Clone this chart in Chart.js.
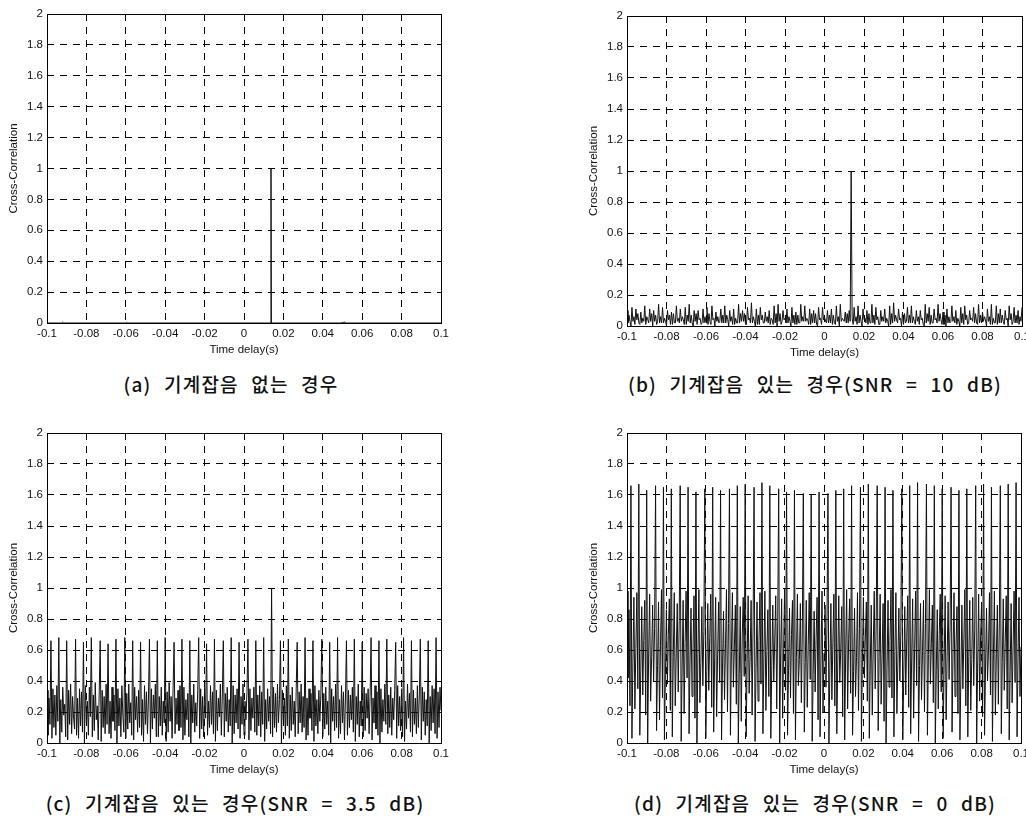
<!DOCTYPE html>
<html>
<head>
<meta charset="utf-8">
<script src="https://cdn.jsdelivr.net/npm/chart.js@4.4.0/dist/chart.umd.min.js"></script>
<style>
  html, body { margin: 0; padding: 0; background: #fff; overflow: hidden; }
  body { width: 1026px; height: 817px; position: relative; }
  canvas { position: absolute; }
  .caption {
    position: absolute; width: 520px; text-align: center; white-space: pre;
    font-family: "Noto Sans CJK KR", sans-serif; font-size: 19px; font-weight: 500; line-height: 24px;
    letter-spacing: 1.2px; word-spacing: 7px; color: #111;
  }
</style>
</head>
<body>
<canvas id="chartA" width="460" height="365" style="left:0;top:0"></canvas>
<canvas id="chartB" width="470" height="365" style="left:580px;top:0"></canvas>
<canvas id="chartC" width="460" height="365" style="left:0;top:415px"></canvas>
<canvas id="chartD" width="470" height="365" style="left:580px;top:415px"></canvas>

<div class="caption" id="capA" style="left:-29px;top:372px"></div>
<div class="caption" id="capB" style="left:555px;top:372px"></div>
<div class="caption" id="capC" style="left:-25px;top:791px"></div>
<div class="caption" id="capD" style="left:555px;top:791px"></div>

<script>
// axis ticks
const delayTicks = [-0.1, -0.08, -0.06, -0.04, -0.02, 0, 0.02, 0.04, 0.06, 0.08, 0.1];
const delayTickLabels = ['-0.1', '-0.08', '-0.06', '-0.04', '-0.02', '0', '0.02', '0.04', '0.06', '0.08', '0.1'];
const corrTicks = [0, 0.2, 0.4, 0.6, 0.8, 1, 1.2, 1.4, 1.6, 1.8, 2];
const corrTickLabels = ['0', '0.2', '0.4', '0.6', '0.8', '1', '1.2', '1.4', '1.6', '1.8', '2'];

const captions = [
  '(a) 기계잡음 없는 경우',
  '(b) 기계잡음 있는 경우(SNR = 10 dB)',
  '(c) 기계잡음 있는 경우(SNR = 3.5 dB)',
  '(d) 기계잡음 있는 경우(SNR = 0 dB)'
];

// (a) no machine noise: only the delay peak
const lagsA = [-0.1, -0.0925, -0.092, -0.0915, -0.06, -0.0595, -0.059, 0.0135, 0.0137, 0.0139, 0.0495, 0.05, 0.0505, 0.051, 0.0515, 0.1];
const corrA = [0, 0, 0.006, 0, 0, 0.004, 0, 0, 1, 0, 0, 0.007, 0, 0.008, 0, 0];

// (b)-(d) sampled every 0.5 ms from -0.1 s
const lagStep = 0.0005;

const corrB = [
  0.10, 0.02, 0.07, 0.03, 0.00, 0.12, 0.03, 0.06, 0.01,
  0.11, 0.04, 0.08, 0.02, 0.01, 0.09, 0.02, 0.05, 0.03,
  0.13, 0.01, 0.06, 0.04, 0.02, 0.11, 0.03, 0.08, 0.00,
  0.10, 0.03, 0.07, 0.01, 0.03, 0.14, 0.02, 0.06, 0.02,
  0.12, 0.02, 0.05, 0.03, 0.00, 0.10, 0.04, 0.07, 0.01,
  0.09, 0.01, 0.08, 0.02, 0.02, 0.13, 0.03, 0.05, 0.02,
  0.11, 0.03, 0.06, 0.04, 0.01, 0.12, 0.01, 0.07, 0.03,
  0.14, 0.02, 0.07, 0.02, 0.00, 0.10, 0.03, 0.08, 0.01,
  0.10, 0.04, 0.05, 0.01, 0.02, 0.11, 0.02, 0.06, 0.02,
  0.12, 0.01, 0.08, 0.03, 0.01, 0.13, 0.04, 0.05, 0.00,
  0.09, 0.03, 0.06, 0.02, 0.03, 0.11, 0.02, 0.07, 0.02,
  0.13, 0.02, 0.07, 0.04, 0.00, 0.10, 0.03, 0.06, 0.01,
  0.11, 0.01, 0.05, 0.02, 0.02, 0.14, 0.02, 0.08, 0.03,
  0.10, 0.03, 0.08, 0.01, 0.01, 0.12, 0.04, 0.05, 0.02,
  0.15, 0.02, 0.06, 0.03, 0.00, 0.11, 0.01, 0.07, 0.01,
  0.12, 0.04, 0.07, 0.02, 0.02, 0.09, 0.03, 0.06, 0.02,
  0.10, 0.01, 0.05, 0.04, 0.01, 0.13, 0.02, 0.08, 0.00,
  0.14, 0.03, 0.08, 0.01, 0.03, 0.10, 0.04, 0.05, 0.02,
  0.11, 0.02, 0.06, 0.03, 0.00, 0.12, 0.02, 0.07, 0.01,
  0.09, 0.01, 0.07, 0.02, 0.02, 0.14, 0.03, 0.06, 0.03,
  0.13, 0.03, 0.05, 0.04, 0.01, 0.11, 0.01, 0.08, 0.02,
  0.10, 0.02, 0.08, 0.01, 0.00, 0.12, 0.04, 0.05, 0.01,
  0.12, 0.04, 0.06, 0.03, 0.02, 0.10, 0.02, 0.07, 0.02,
  0.11, 0.01, 0.07, 0.02, 0.01, 0.13, 0.03, 0.06, 0.00,
  0.14, 0.03, 0.05, 0.04, 0.03, 0.09, 0.02, 0.08, 0.02,
  0.10, 0.03, 1.00, 0.05, 0.01, 0.12, 0.03, 0.06, 0.01,
  0.13, 0.02, 0.07, 0.03, 0.00, 0.11, 0.04, 0.05, 0.02,
  0.10, 0.01, 0.08, 0.02, 0.02, 0.14, 0.02, 0.07, 0.01,
  0.12, 0.04, 0.06, 0.01, 0.01, 0.10, 0.03, 0.06, 0.03,
  0.11, 0.02, 0.05, 0.03, 0.00, 0.13, 0.01, 0.08, 0.02,
  0.15, 0.03, 0.07, 0.04, 0.02, 0.11, 0.04, 0.05, 0.00,
  0.09, 0.01, 0.08, 0.02, 0.03, 0.12, 0.02, 0.07, 0.02,
  0.13, 0.02, 0.06, 0.03, 0.01, 0.10, 0.03, 0.06, 0.01,
  0.10, 0.04, 0.05, 0.01, 0.00, 0.14, 0.02, 0.08, 0.03,
  0.12, 0.01, 0.07, 0.02, 0.02, 0.11, 0.04, 0.05, 0.02,
  0.14, 0.03, 0.08, 0.04, 0.01, 0.09, 0.01, 0.07, 0.00,
  0.11, 0.02, 0.06, 0.02, 0.03, 0.13, 0.03, 0.06, 0.02,
  0.10, 0.01, 0.05, 0.03, 0.00, 0.12, 0.02, 0.08, 0.01,
  0.13, 0.04, 0.07, 0.01, 0.02, 0.10, 0.04, 0.05, 0.03,
  0.12, 0.02, 0.08, 0.02, 0.01, 0.14, 0.02, 0.07, 0.02,
  0.09, 0.03, 0.06, 0.04, 0.00, 0.11, 0.03, 0.06, 0.01,
  0.14, 0.01, 0.05, 0.02, 0.02, 0.13, 0.01, 0.08, 0.02,
  0.11, 0.02, 0.07, 0.03, 0.01, 0.10, 0.04, 0.05, 0.00,
  0.13, 0.04, 0.08, 0.01, 0.03, 0.12, 0.02, 0.07, 0.02,
  0.10, 0.01, 0.06, 0.03, 0.12
];

const corrC = [
  0.34, 0.05, 0.29, 0.12,
  0.66, 0.03, 0.35, 0.10, 0.31, 0.05, 0.37, 0.14,
  0.68, 0.00, 0.28, 0.07, 0.36, 0.18, 0.25, 0.04,
  0.66, 0.02, 0.34, 0.12, 0.38, 0.06, 0.30, 0.16, 0.09,
  0.67, 0.05, 0.29, 0.03, 0.35, 0.11, 0.33, 0.07,
  0.65, 0.00, 0.37, 0.13, 0.27, 0.05, 0.36, 0.17,
  0.68, 0.04, 0.31, 0.08, 0.39, 0.15, 0.24, 0.02, 0.33,
  0.66, 0.01, 0.34, 0.10, 0.30, 0.06, 0.38, 0.12,
  0.64, 0.06, 0.27, 0.03, 0.36, 0.14, 0.31, 0.08,
  0.67, 0.00, 0.35, 0.11, 0.29, 0.04, 0.37, 0.18, 0.07,
  0.68, 0.03, 0.32, 0.09, 0.38, 0.13, 0.26, 0.05,
  0.66, 0.02, 0.36, 0.15, 0.30, 0.07, 0.34, 0.10,
  0.65, 0.05, 0.28, 0.01, 0.37, 0.12, 0.33, 0.06, 0.29,
  0.67, 0.00, 0.35, 0.09, 0.31, 0.16, 0.38, 0.04,
  0.66, 0.04, 0.30, 0.11, 0.36, 0.05, 0.27, 0.13,
  0.68, 0.01, 0.33, 0.07, 0.39, 0.14, 0.30, 0.03, 0.35,
  0.65, 0.06, 0.29, 0.12, 0.34, 0.08, 0.37, 0.10,
  0.67, 0.02, 0.36, 0.05, 0.28, 0.15, 0.32, 0.04,
  0.66, 0.00, 0.31, 0.13, 0.38, 0.07, 0.26, 0.11, 0.34,
  0.68, 0.03, 0.35, 0.09, 0.30, 0.04, 0.36, 0.16,
  0.64, 0.05, 0.27, 0.10, 0.37, 0.12, 0.33, 0.06,
  0.67, 0.01, 0.34, 0.08, 0.29, 0.17, 0.38, 0.05, 0.31,
  0.66, 0.04, 0.32, 0.14, 0.36, 0.07, 0.28, 0.11,
  0.68, 0.00, 0.37, 0.06, 0.31, 0.13, 0.35, 0.09,
  0.65, 0.03, 0.30, 0.12, 0.38, 0.05, 0.27, 0.15, 0.33,
  0.67, 0.02, 0.35, 0.08, 0.29, 0.16, 0.36, 0.07,
  0.66, 0.05, 0.31, 0.11, 0.37, 0.04, 0.33, 0.12,
  0.68, 0.01, 0.28, 0.09, 0.35, 0.14, 0.30, 0.06,
  1.00, 0.04, 0.36, 0.10, 0.32, 0.07, 0.38, 0.13, 0.28,
  0.66, 0.00, 0.34, 0.15, 0.29, 0.05, 0.37, 0.11,
  0.67, 0.03, 0.31, 0.08, 0.36, 0.12, 0.27, 0.04, 0.35,
  0.65, 0.06, 0.33, 0.13, 0.38, 0.07, 0.30, 0.10,
  0.68, 0.02, 0.29, 0.05, 0.35, 0.16, 0.32, 0.08,
  0.66, 0.01, 0.37, 0.11, 0.28, 0.06, 0.34, 0.14, 0.31,
  0.67, 0.04, 0.32, 0.09, 0.36, 0.12, 0.27, 0.05,
  0.65, 0.00, 0.35, 0.14, 0.30, 0.08, 0.38, 0.10,
  0.68, 0.03, 0.28, 0.06, 0.37, 0.13, 0.33, 0.02, 0.29,
  0.66, 0.05, 0.34, 0.10, 0.31, 0.15, 0.36, 0.07,
  0.67, 0.01, 0.30, 0.12, 0.38, 0.04, 0.27, 0.11,
  0.65, 0.04, 0.36, 0.08, 0.32, 0.16, 0.35, 0.06, 0.30,
  0.68, 0.02, 0.29, 0.13, 0.37, 0.09, 0.33, 0.05,
  0.66, 0.00, 0.35, 0.07, 0.28, 0.14, 0.38, 0.12,
  0.67, 0.06, 0.31, 0.10, 0.36, 0.05, 0.29, 0.15, 0.34,
  0.65, 0.03, 0.37, 0.11, 0.30, 0.08, 0.35, 0.04,
  0.68, 0.01, 0.27, 0.09, 0.38, 0.16, 0.32, 0.07,
  0.66, 0.04, 0.34, 0.12, 0.29, 0.06, 0.37, 0.10, 0.31,
  0.67, 0.02, 0.36, 0.14, 0.33, 0.05, 0.28, 0.11,
  0.66, 0.00, 0.30, 0.08, 0.37, 0.13, 0.35, 0.06,
  0.68, 0.03, 0.33, 0.10, 0.36, 0.21
];

const corrD = [
  0.98, 0.42, 0.86, 0.24,
  1.66, 0.03, 0.52, 0.94, 0.22, 0.61, 0.97, 0.35,
  1.67, 0.05, 0.47, 0.88, 0.31, 0.66, 0.92, 0.18,
  1.63, 0.00, 0.58, 0.96, 0.27, 0.55, 0.89, 0.40, 0.74,
  1.66, 0.08, 0.50, 0.91, 0.15, 0.63, 0.99, 0.29,
  1.65, 0.02, 0.44, 0.86, 0.38, 0.70, 0.93, 0.21,
  1.64, 0.04, 0.56, 0.97, 0.24, 0.58, 0.90, 0.33, 0.79,
  1.66, 0.01, 0.49, 0.92, 0.19, 0.65, 0.98, 0.42,
  1.65, 0.06, 0.53, 0.87, 0.30, 0.60, 0.95, 0.16,
  1.62, 0.00, 0.57, 0.99, 0.26, 0.52, 0.88, 0.37, 0.72,
  1.64, 0.03, 0.46, 0.90, 0.34, 0.68, 0.96, 0.23,
  1.65, 0.07, 0.55, 0.94, 0.17, 0.57, 0.91, 0.39,
  1.63, 0.02, 0.51, 0.85, 0.28, 0.64, 0.99, 0.20, 0.77,
  1.64, 0.05, 0.59, 0.97, 0.36, 0.62, 0.89, 0.25,
  1.66, 0.00, 0.45, 0.88, 0.14, 0.69, 0.94, 0.43,
  1.67, 0.04, 0.54, 0.95, 0.32, 0.56, 0.92, 0.18, 0.75,
  1.65, 0.01, 0.48, 0.91, 0.27, 0.66, 0.97, 0.38,
  1.68, 0.06, 0.56, 0.98, 0.21, 0.59, 0.86, 0.30,
  1.66, 0.03, 0.50, 0.89, 0.40, 0.67, 0.95, 0.22, 0.78,
  1.64, 0.00, 0.58, 0.93, 0.16, 0.61, 0.99, 0.34,
  1.62, 0.05, 0.47, 0.87, 0.29, 0.70, 0.92, 0.19,
  1.63, 0.02, 0.55, 0.96, 0.37, 0.54, 0.90, 0.26, 0.73,
  1.61, 0.07, 0.52, 0.92, 0.23, 0.63, 0.97, 0.41,
  1.60, 0.01, 0.44, 0.85, 0.33, 0.68, 0.94, 0.15,
  1.62, 0.04, 0.57, 0.98, 0.20, 0.58, 0.89, 0.36, 0.76,
  1.61, 0.00, 0.49, 0.90, 0.28, 0.65, 0.96, 0.24,
  1.63, 0.06, 0.53, 0.95, 0.39, 0.60, 0.88, 0.17,
  1.64, 0.02, 0.58, 0.99, 0.22, 0.67, 0.93, 0.32,
  1.66, 0.05, 0.46, 0.87, 0.30, 0.55, 0.97, 0.21, 0.74,
  1.65, 0.01, 0.54, 0.94, 0.42, 0.69, 0.91, 0.27,
  1.67, 0.03, 0.51, 0.89, 0.18, 0.62, 0.98, 0.35, 0.79,
  1.66, 0.08, 0.56, 0.96, 0.25, 0.57, 0.90, 0.14,
  1.65, 0.00, 0.48, 0.92, 0.36, 0.66, 0.99, 0.29,
  1.63, 0.04, 0.59, 0.97, 0.19, 0.53, 0.87, 0.40, 0.72,
  1.64, 0.02, 0.45, 0.88, 0.31, 0.68, 0.95, 0.23,
  1.66, 0.06, 0.55, 0.93, 0.16, 0.61, 0.98, 0.37,
  1.68, 0.01, 0.50, 0.90, 0.28, 0.59, 0.92, 0.20, 0.77,
  1.67, 0.05, 0.57, 0.99, 0.38, 0.64, 0.89, 0.26,
  1.66, 0.00, 0.47, 0.86, 0.22, 0.70, 0.96, 0.33,
  1.64, 0.03, 0.53, 0.95, 0.15, 0.56, 0.91, 0.41, 0.75,
  1.65, 0.07, 0.58, 0.97, 0.30, 0.62, 0.88, 0.19,
  1.63, 0.02, 0.44, 0.89, 0.35, 0.67, 0.99, 0.24,
  1.64, 0.04, 0.56, 0.92, 0.21, 0.54, 0.94, 0.37, 0.73,
  1.66, 0.00, 0.51, 0.96, 0.27, 0.69, 0.90, 0.17,
  1.67, 0.05, 0.49, 0.87, 0.40, 0.60, 0.97, 0.31,
  1.65, 0.01, 0.57, 0.98, 0.18, 0.58, 0.89, 0.25, 0.78,
  1.66, 0.06, 0.52, 0.93, 0.34, 0.65, 0.95, 0.22,
  1.67, 0.02, 0.46, 0.90, 0.26, 0.63, 0.98, 0.39,
  1.68, 0.04, 0.55, 0.94, 0.30, 0.62
];

const sampledLags = values => values.map((_, i) => -0.1 + i * lagStep);

const tickFont = { family: '"Liberation Sans", Arial, sans-serif', size: 11.5 };
const inkColor = '#111';

// MATLAB style closed box around the plot area
const frameBox = {
  id: 'frameBox',
  afterDatasetsDraw(chart) {
    const { ctx, chartArea } = chart;
    ctx.save();
    ctx.strokeStyle = '#000';
    ctx.lineWidth = 1;
    ctx.strokeRect(Math.round(chartArea.left) + 0.5, Math.round(chartArea.top) + 0.5,
      Math.round(chartArea.right - chartArea.left), Math.round(chartArea.bottom - chartArea.top));
    ctx.restore();
  }
};

function drawPanel(id, lags, corr, pad) {
  const ctx = document.getElementById(id).getContext('2d');
  return new Chart(ctx, {
    type: 'line',
    data: {
      datasets: [{
        data: lags.map((x, i) => ({ x, y: corr[i] })),
        borderColor: inkColor,
        borderWidth: 1,
        pointRadius: 0,
        tension: 0,
        fill: false
      }]
    },
    options: {
      responsive: false,
      animation: false,
      events: [],
      layout: { padding: pad },
      plugins: {
        legend: { display: false },
        tooltip: { enabled: false }
      },
      scales: {
        x: {
          type: 'linear',
          min: -0.1,
          max: 0.1,
          afterBuildTicks: scale => { scale.ticks = delayTicks.map(v => ({ value: v })); },
          afterFit: scale => { scale.height = 34; },
          ticks: {
            callback: (v, i) => delayTickLabels[i],
            autoSkip: false,
            maxRotation: 0,
            padding: 4,
            color: inkColor,
            font: tickFont
          },
          grid: { color: '#000', lineWidth: 1, drawTicks: false },
          border: { display: false, dash: [7, 6] },
          title: { display: true, text: 'Time delay(s)', color: inkColor, font: tickFont, padding: 0 }
        },
        y: {
          min: 0,
          max: 2,
          afterBuildTicks: scale => { scale.ticks = corrTicks.map(v => ({ value: v })); },
          afterFit: scale => { scale.width = 41; },
          ticks: {
            callback: (v, i) => corrTickLabels[i],
            autoSkip: false,
            padding: 4,
            color: inkColor,
            font: tickFont
          },
          grid: { color: '#000', lineWidth: 1, drawTicks: false },
          border: { display: false, dash: [7, 6] },
          title: { display: true, text: 'Cross-Correlation', color: inkColor, font: tickFont, padding: { top: 1, bottom: 0 } }
        }
      }
    },
    plugins: [frameBox]
  });
}

drawPanel('chartA', lagsA, corrA, { left: 6, top: 14, right: 19, bottom: 8 });
drawPanel('chartB', sampledLags(corrB), corrB, { left: 6, top: 16, right: 28, bottom: 5 });
drawPanel('chartC', sampledLags(corrC), corrC, { left: 6, top: 18, right: 19, bottom: 3 });
drawPanel('chartD', sampledLags(corrD), corrD, { left: 6, top: 18, right: 29, bottom: 3 });

['capA', 'capB', 'capC', 'capD'].forEach((id, i) => {
  document.getElementById(id).textContent = captions[i];
});
</script>
</body>
</html>
